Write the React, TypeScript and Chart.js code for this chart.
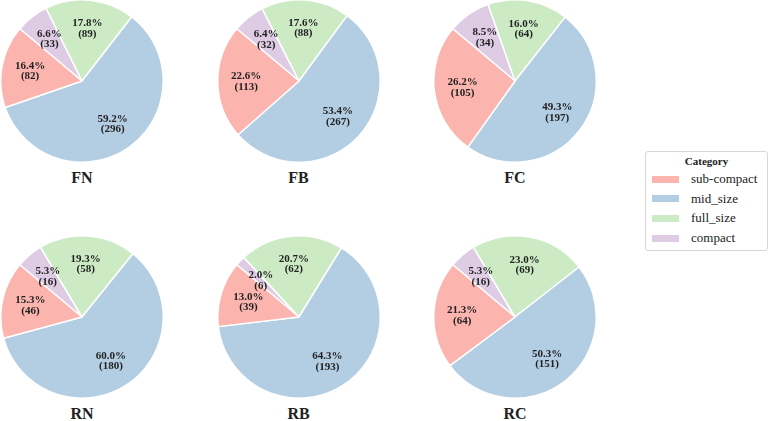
import React, { useEffect, useRef } from "react";
import Chart from "chart.js/auto";

const categories = ["sub-compact", "mid_size", "full_size", "compact"];
const colors = ["#fbb4ae", "#b3cde3", "#ccebc5", "#decbe4"];

const panelNames = ["FN", "FB", "FC", "RN", "RB", "RC"];
const fnCounts = [82, 296, 89, 33];
const fbCounts = [113, 267, 88, 32];
const fcCounts = [105, 197, 64, 34];
const rnCounts = [46, 180, 58, 16];
const rbCounts = [39, 193, 62, 6];
const rcCounts = [64, 151, 69, 16];
const panelCounts = [fnCounts, fbCounts, fcCounts, rnCounts, rbCounts, rcCounts];

const FONT = "'Liberation Serif', 'Times New Roman', serif";

// pie centres in the 770x421 frame
const centers = [
  [82, 81],
  [298.5, 81],
  [515, 81],
  [82, 317],
  [298.5, 317],
  [515, 317],
];
const SIZE = 164;

// source fractions were single precision, which decides the x.x5 cases
const pctText = (count: number, total: number): string =>
  (100 * Math.fround(count / total)).toFixed(1) + "%";

const pctLabels = {
  id: "pctLabels",
  afterDatasetsDraw(chart: any) {
    const ctx = chart.ctx;
    const meta = chart.getDatasetMeta(0);
    const data = chart.data.datasets[0].data as number[];
    const total = data.reduce((a, b) => a + b, 0);
    ctx.save();
    ctx.font = `bold 11px ${FONT}`;
    ctx.fillStyle = "#222";
    ctx.textAlign = "center";
    ctx.textBaseline = "middle";
    meta.data.forEach((arc: any, i: number) => {
      const p = arc.getProps(["x", "y", "startAngle", "endAngle", "outerRadius"], true);
      const mid = (p.startAngle + p.endAngle) / 2;
      const r = p.outerRadius * 0.65;
      const x = p.x + Math.cos(mid) * r;
      const y = p.y + Math.sin(mid) * r;
      ctx.fillText(pctText(data[i], total), x, y - 5.2);
      ctx.fillText(`(${data[i]})`, x, y + 5.2);
    });
    ctx.restore();
  },
};

const PieCanvas: React.FC<{ counts: number[] }> = ({ counts }) => {
  const canvasRef = useRef<HTMLCanvasElement>(null);
  const chartRef = useRef<Chart | null>(null);

  useEffect(() => {
    if (!canvasRef.current) return;
    const ctx = canvasRef.current.getContext("2d");
    if (!ctx) return;

    // matplotlib draws counter-clockwise from 140deg; reverse order clockwise
    const order = [3, 2, 1, 0];
    chartRef.current = new Chart(ctx, {
      type: "pie",
      data: {
        labels: order.map((i) => categories[i]),
        datasets: [
          {
            data: order.map((i) => counts[i]),
            backgroundColor: order.map((i) => colors[i]),
            borderColor: "#ffffff",
            borderWidth: 1.5,
          },
        ],
      },
      options: {
        responsive: false,
        animation: false,
        events: [],
        rotation: -50,
        layout: { padding: 0 },
        plugins: {
          legend: { display: false },
          tooltip: { enabled: false },
        },
      },
      plugins: [pctLabels],
    });

    return () => {
      if (chartRef.current) {
        chartRef.current.destroy();
        chartRef.current = null;
      }
    };
  }, [counts]);

  return <canvas ref={canvasRef} width={SIZE} height={SIZE} style={{ width: SIZE, height: SIZE }} />;
};

const App: React.FC = () => {
  return (
    <div
      style={{
        position: "fixed",
        left: 0,
        top: 0,
        width: 770,
        height: 421,
        background: "#fff",
        fontFamily: FONT,
        overflow: "hidden",
      }}
    >
      {panelNames.map((name, k) => {
        const [cx, cy] = centers[k];
        return (
          <React.Fragment key={name}>
            <div style={{ position: "absolute", left: cx - SIZE / 2, top: cy - SIZE / 2 }}>
              <PieCanvas counts={panelCounts[k]} />
            </div>
            <div
              style={{
                position: "absolute",
                left: cx - 40,
                width: 80,
                top: cy + 97 - 10,
                height: 20,
                lineHeight: "20px",
                textAlign: "center",
                fontWeight: "bold",
                fontSize: 16,
                color: "#222",
              }}
            >
              {name}
            </div>
          </React.Fragment>
        );
      })}

      <div
        style={{
          position: "absolute",
          left: 645,
          top: 151,
          width: 123,
          height: 100,
          boxSizing: "border-box",
          border: "1px solid #d6d6d6",
          borderRadius: 3,
        }}
      >
        <div
          style={{
            position: "absolute",
            left: 0,
            right: 0,
            top: 2,
            textAlign: "center",
            fontWeight: "bold",
            fontSize: 11,
            lineHeight: "14px",
            color: "#222",
          }}
        >
          Category
        </div>
        {categories.map((c, i) => (
          <div
            key={c}
            style={{ position: "absolute", left: 6, top: 17 + i * 19.7, height: 20, display: "flex", alignItems: "center" }}
          >
            <div style={{ width: 27, height: 7, background: colors[i] }} />
            <span style={{ marginLeft: 12, fontSize: 13, color: "#222", lineHeight: "20px" }}>{c}</span>
          </div>
        ))}
      </div>
    </div>
  );
};

export default App;
